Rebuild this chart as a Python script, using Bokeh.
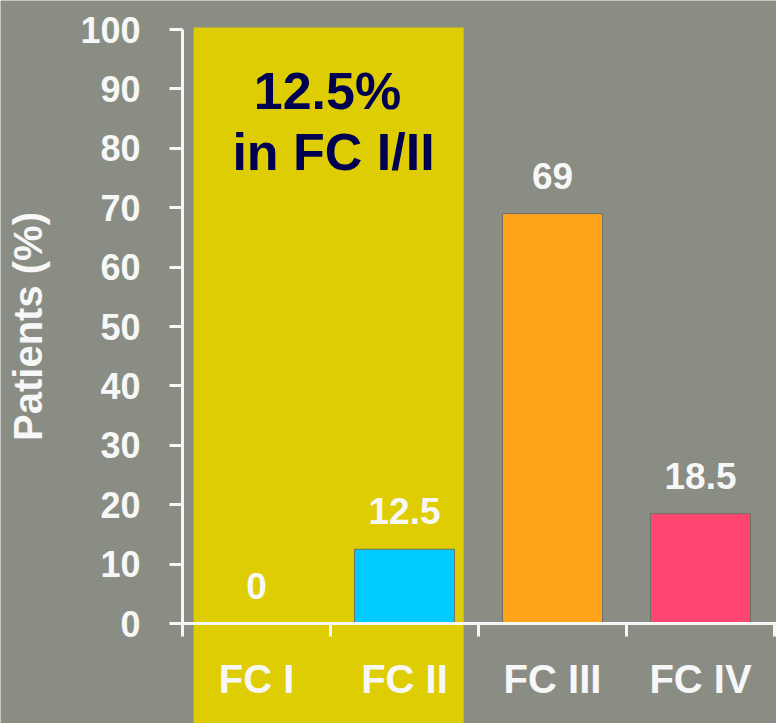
from bokeh.plotting import figure
from bokeh.models import LinearAxis, FixedTicker, ColumnDataSource
from bokeh.core.properties import value
from bokeh.embed import file_html
from bokeh.resources import INLINE

# ---- data ----
categories = ["FC I", "FC II", "FC III", "FC IV"]
patients_pct = [0, 12.5, 69, 18.5]
value_labels = ["0", "12.5", "69", "18.5"]
bar_colors = ["#00CCFF", "#00CCFF", "#FFA419", "#FF4670"]
y_ticks = [0, 10, 20, 30, 40, 50, 60, 70, 80, 90, 100]
highlight_categories = ["FC I", "FC II"]
annotation_lines = ["12.5%", "in FC I/II"]

BG = "#8A8D84"
YELLOW = "#DECD02"
WHITE = "#F7F7F7"
NAVY = "#000050"
FONT = "Liberation Sans"

xs = [i + 0.5 for i in range(len(categories))]
n_cat = len(categories)

# pixel mapping: x=0 at 182px, 148 px/unit ; y=0 at 623px, 5.94 px/unit
px_x = 148.0
px_y = 5.94
x_start = -182 / px_x
x_end = (776 - 182) / px_x
y_end = 623 / px_y
y_start = -(723 - 623) / px_y

p = figure(width=776, height=723, x_range=(x_start, x_end), y_range=(y_start, y_end),
           toolbar_location=None, output_backend="svg", min_border=0,
           x_axis_location=None, y_axis_location=None)
p.background_fill_color = BG
p.border_fill_color = BG
p.outline_line_color = None
p.grid.visible = False

# highlight band for FC I / FC II
hi_idx = [categories.index(c) for c in highlight_categories]
p.quad(left=[min(hi_idx) + 0.075], right=[max(hi_idx) + 0.90],
       bottom=[y_start - 5], top=[max(y_ticks) + 0.35],
       fill_color=YELLOW, line_color=None)

src = ColumnDataSource(dict(x=xs, top=patients_pct, color=bar_colors, label=value_labels))
nonzero = ColumnDataSource(dict(x=[x for x, v in zip(xs, patients_pct) if v > 0],
                                top=[v for v in patients_pct if v > 0],
                                color=[c for c, v in zip(bar_colors, patients_pct) if v > 0]))
p.vbar(x="x", top="top", bottom=0, width=100 / px_x, fill_color="color",
       line_color="#6f7068", line_width=1, source=nonzero)

p.text(x="x", y="top", text="label", source=src, text_align="center",
       text_baseline="alphabetic", y_offset=-38, text_color=WHITE,
       text_font=value(FONT), text_font_style="bold", text_font_size="37px")

# annotation in the band
ann_x = (min(hi_idx) + max(hi_idx) + 1) / 2
p.text(x=[ann_x, ann_x], y=[max(y_ticks), max(y_ticks)], text=annotation_lines,
       y_offset=[61, 122], x_offset=[-3, 3], text_align="center", text_baseline="alphabetic",
       text_color=NAVY, text_font=value(FONT), text_font_style="bold", text_font_size="52px")

# y axis
yax = LinearAxis(fixed_location=0, bounds=(min(y_ticks), max(y_ticks)),
                 ticker=FixedTicker(ticks=y_ticks, minor_ticks=[]))
yax.axis_line_color = WHITE
yax.axis_line_width = 3
yax.major_tick_line_color = WHITE
yax.major_tick_line_width = 3
yax.major_tick_out = 13
yax.major_tick_in = 0
yax.minor_tick_line_color = None
yax.major_label_standoff = 29
yax.major_label_text_color = WHITE
yax.major_label_text_font = FONT
yax.major_label_text_font_style = "bold"
yax.major_label_text_font_size = "36px"
yax.axis_label = "Patients (%)"
yax.axis_label_text_color = WHITE
yax.axis_label_text_font = FONT
yax.axis_label_text_font_style = "bold"
yax.axis_label_text_font_size = "40px"
yax.axis_label_standoff = 27
p.add_layout(yax, "left")

# x axis: boundary ticks
bounds_ticks = list(range(n_cat + 1))
xax = LinearAxis(fixed_location=0, bounds=(0, x_end),
                 ticker=FixedTicker(ticks=bounds_ticks, minor_ticks=[]))
xax.axis_line_color = WHITE
xax.axis_line_width = 3
xax.major_tick_line_color = WHITE
xax.major_tick_line_width = 3
xax.major_tick_out = 13
xax.major_tick_in = 0
xax.minor_tick_line_color = None
xax.major_label_overrides = {t: "" for t in bounds_ticks}
p.add_layout(xax, "below")

# x axis: category labels
lab_ax = LinearAxis(fixed_location=0, ticker=FixedTicker(ticks=xs, minor_ticks=[]))
lab_ax.axis_line_color = None
lab_ax.major_tick_line_color = None
lab_ax.minor_tick_line_color = None
lab_ax.major_tick_out = 0
lab_ax.major_tick_in = 0
lab_ax.major_label_overrides = {x: c for x, c in zip(xs, categories)}
lab_ax.major_label_standoff = 33
lab_ax.major_label_text_color = WHITE
lab_ax.major_label_text_font = FONT
lab_ax.major_label_text_font_style = "bold"
lab_ax.major_label_text_font_size = "40px"
p.add_layout(lab_ax, "below")

open("out.html", "w").write(file_html(p, INLINE))
